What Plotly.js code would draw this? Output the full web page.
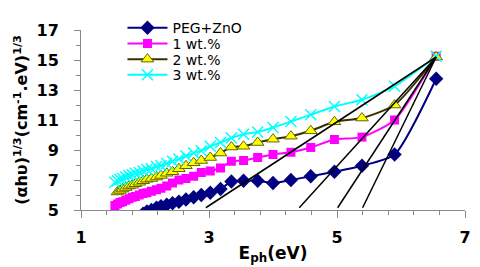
<!DOCTYPE html>
<html>
<head>
<meta charset="utf-8">
<script src="https://cdn.plot.ly/plotly-3.0.1.min.js"></script>
<style>html,body{margin:0;padding:0;background:#fff;}#chart{width:480px;height:267px;}</style>
</head>
<body>
<div id="chart"></div>
<script>
// Photon energy (eV) for each measured point
var energy = [1.53,1.57,1.61,1.65,1.70,1.75,1.80,1.85,1.91,1.97,2.03,2.10,2.18,2.25,2.34,2.43,2.53,2.64,2.76,2.88,3.02,3.18,3.35,3.54,3.76,4.00,4.28,4.59,4.96,5.39,5.90,6.55];
var energyPEG = [1.97,2.03,2.10,2.18,2.25,2.34,2.43,2.53,2.64,2.76,2.88,3.02,3.18,3.35,3.54,3.76,4.00,4.28,4.59,4.96,5.39,5.90,6.55];
var energy2wt = [1.57,1.61,1.65,1.70,1.75,1.80,1.85,1.91,1.97,2.03,2.10,2.18,2.25,2.34,2.43,2.53,2.64,2.76,2.88,3.02,3.18,3.35,3.54,3.76,4.00,4.28,4.59,4.96,5.39,5.90,6.55];

// (αhυ)^(1/3) values
var pegZnO = [4.75,4.9,5.0,5.15,5.25,5.35,5.45,5.55,5.7,5.85,6.0,6.15,6.4,6.9,6.95,6.95,6.8,7.0,7.25,7.55,7.95,8.7,13.75];
var wt1 = [5.3,5.4,5.5,5.55,5.65,5.75,5.85,5.9,6.0,6.1,6.15,6.25,6.35,6.45,6.6,6.8,7.0,7.1,7.25,7.5,7.6,7.8,8.25,8.3,8.5,8.7,8.85,9.17,9.7,9.86,11.0,15.25];
var wt2 = [6.2,6.3,6.4,6.5,6.6,6.65,6.75,6.85,6.95,7.05,7.1,7.2,7.3,7.45,7.55,7.75,7.95,8.15,8.3,8.5,8.8,9.2,9.25,9.5,9.72,9.92,10.28,10.88,11.13,12.0,15.2];
var wt3 = [6.85,6.95,7.05,7.1,7.2,7.3,7.35,7.45,7.5,7.6,7.7,7.75,7.9,7.95,8.1,8.25,8.4,8.6,8.8,8.95,9.25,9.5,9.8,10.05,10.2,10.5,10.9,11.35,11.9,12.35,13.25,15.25];

var seriesNames = ["PEG+ZnO","1 wt.%","2 wt.%","3 wt.%"];

// Tangent (extrapolation) lines: x-intercepts near the axis and common upper point
var tangentStartX = [2.95, 4.41, 5.01, 5.40];
var tangentStartY = [5.15, 5.15, 5.15, 5.15];
var tangentEndX = 6.55;
var tangentEndY = 15.2;

var xTicks = [1,3,5,7];
var yTicks = [5,7,9,11,13,15,17];

var FONT = "DejaVu Sans, Liberation Sans, Arial, sans-serif";

var traces = [
  {x: energyPEG, y: pegZnO, name: seriesNames[0], mode: "lines+markers", legend: "legend",
   line: {color: "#000080", width: 2, shape: "spline", smoothing: 0.6},
   marker: {symbol: "diamond", size: 11, color: "#000080"}},
  {x: energy, y: wt1, name: seriesNames[1], mode: "lines+markers", legend: "legend2",
   line: {color: "#FF00FF", width: 2, shape: "spline", smoothing: 0.6},
   marker: {symbol: "square", size: 9, color: "#FF00FF"}},
  {x: energy2wt, y: wt2, name: seriesNames[2], mode: "lines+markers", legend: "legend3",
   line: {color: "#333300", width: 2, shape: "spline", smoothing: 0.6},
   marker: {symbol: "triangle-up", size: 11, color: "#FFFF00", line: {color: "#666600", width: 1}}},
  {x: energy, y: wt3, name: seriesNames[3], mode: "lines+markers", legend: "legend4",
   line: {color: "#00FFFF", width: 2, shape: "spline", smoothing: 0.6},
   marker: {symbol: "x-thin", size: 11, color: "#00FFFF", line: {color: "#00FFFF", width: 1.5}}}
];

for (var i = 0; i < tangentStartX.length; i++) {
  traces.push({x: [tangentStartX[i], tangentEndX], y: [tangentStartY[i], tangentEndY],
    mode: "lines", showlegend: false, hoverinfo: "skip",
    line: {color: "#000000", width: 1.5}});
}

function legendAt(yp) {
  return {x: 0.108, y: yp, xanchor: "left", yanchor: "middle", bgcolor: "rgba(0,0,0,0)",
    borderwidth: 0, font: {family: FONT, size: 14, color: "#000"}, itemwidth: 40};
}
// plot area: y px 15..210  -> paper y = (210 - py)/195
var layout = {
  width: 480, height: 267,
  margin: {l: 81, r: 15, t: 15, b: 57},
  paper_bgcolor: "#fff", plot_bgcolor: "#fff",
  showlegend: true,
  legend: legendAt((210-13)/195),
  legend2: legendAt((210-30)/195),
  legend3: legendAt((210-47)/195),
  legend4: legendAt((210-64)/195),
  xaxis: {
    range: [1, 7], tickmode: "array", tickvals: xTicks, ticktext: xTicks.map(String),
    showline: true, linecolor: "#888", linewidth: 1, showgrid: false, zeroline: false,
    ticks: "outside", ticklen: 7, tickcolor: "#888", tickwidth: 1,
    minor: {tick0: 1, dtick: 0.4, ticks: "outside", ticklen: 4, tickcolor: "#888", showgrid: false},
    tickfont: {family: FONT, size: 16, color: "#000", weight: "bold"},
    ticklabelstandoff: 6,
    title: {text: "E<sub>ph</sub>(eV)", font: {family: FONT, size: 17, color: "#000", weight: "bold"}, standoff: 0}
  },
  yaxis: {
    range: [5, 17], tickmode: "array", tickvals: yTicks, ticktext: yTicks.map(String),
    showline: true, linecolor: "#888", linewidth: 1, showgrid: false, zeroline: false,
    ticks: "outside", ticklen: 6, tickcolor: "#888", tickwidth: 1,
    minor: {tick0: 5, dtick: 1, ticks: "outside", ticklen: 4, tickcolor: "#888", showgrid: false},
    tickfont: {family: FONT, size: 16, color: "#000", weight: "bold"},
    ticklabelstandoff: 12,
    title: {text: "(αhυ)<sup>1/3</sup>(cm<sup>-1</sup>.eV)<sup>1/3</sup>", font: {family: FONT, size: 16, color: "#000", weight: "bold"}, standoff: 4}
  }
};

Plotly.newPlot("chart", traces, layout, {staticPlot: true, displayModeBar: false});
</script>
</body>
</html>
